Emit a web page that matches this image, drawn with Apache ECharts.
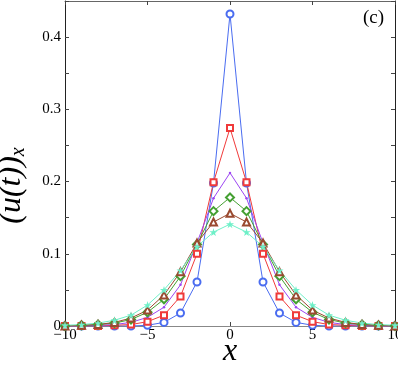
<!DOCTYPE html>
<html>
<head>
<meta charset="utf-8">
<script src="https://cdn.jsdelivr.net/npm/echarts@6/dist/echarts.min.js"></script>
<style>
  html, body { margin: 0; padding: 0; background: #fff; }
  #myChart { width: 398px; height: 366px; }
</style>
</head>
<body>
<div id="myChart"></div>
<script>
// x positions, -10..10
var xs = [-10,-9,-8,-7,-6,-5,-4,-3,-2,-1,0,1,2,3,4,5,6,7,8,9,10];

// half profiles from x=0 outwards (curves are symmetric)
var blueHalf   = [0.432, 0.198, 0.061, 0.018, 0.005, 0.001, 0, 0, 0, 0, 0];
var redHalf    = [0.274, 0.199, 0.100, 0.041, 0.015, 0.006, 0.002, 0.001, 0, 0, 0];
var purpleHalf = [0.212, 0.177, 0.115, 0.057, 0.026, 0.012, 0.005, 0.002, 0.001, 0, 0];
var greenHalf  = [0.178, 0.159, 0.113, 0.069, 0.037, 0.019, 0.009, 0.004, 0.002, 0.001, 0];
var brownHalf  = [0.156, 0.144, 0.115, 0.075, 0.043, 0.022, 0.011, 0.005, 0.002, 0.001, 0];
var cyanHalf   = [0.141, 0.130, 0.110, 0.077, 0.050, 0.029, 0.015, 0.008, 0.004, 0.002, 0.001];

var yLabels = ['0', '0.1', '0.2', '0.3', '0.4'];
var xLabels = {'-10': '\u221210', '-5': '\u22125', '0': '0', '5': '5', '10': '10'};

function full(half){
    var out = [];
    for(var i = 0; i < xs.length; i++){
        out.push([xs[i], half[Math.abs(xs[i])]]);
    }
    return out;
}

var starPath = 'path://M50,0 L61,35 L98,35 L68,57 L79,91 L50,70 L21,91 L32,57 L2,35 L39,35 Z';

function mk(name, half, color, symbol, size){
    return {
        name: name,
        type: 'line',
        data: full(half),
        symbol: symbol,
        symbolSize: size,
        showSymbol: true,
        lineStyle: { color: color, width: 1 },
        itemStyle: { color: color, borderWidth: 0.8 },
        emphasis: { disabled: true },
        z: 3
    };
}

var chart = echarts.init(document.getElementById('myChart'));
var font = 'Liberation Serif';

chart.setOption({
    animation: false,
    grid: { left: 65, right: 3, top: 1, bottom: 40, outerBoundsMode: 'none', containLabel: false },
    xAxis: [{
        type: 'value', min: -10, max: 10, interval: 5,
        name: 'x', nameLocation: 'middle', nameGap: 10, nameMoveOverlap: false,
        nameTextStyle: { fontFamily: font, fontStyle: 'italic', fontSize: 32, color: '#000' },
        axisLine: { show: true, onZero: false, lineStyle: { color: '#888', width: 1 } },
        axisTick: { show: true, inside: true, length: 4, lineStyle: { color: '#444' } },
        axisLabel: { fontFamily: font, fontSize: 15, color: '#000', margin: 2,
            formatter: function(v){ return xLabels[String(v)] || ''; } },
        splitLine: { show: false }
    }, {
        type: 'value', min: -10, max: 10, interval: 5, position: 'top',
        axisLine: { show: true, onZero: false, lineStyle: { color: '#666', width: 1 } },
        axisTick: { show: true, inside: true, length: 4, lineStyle: { color: '#444' } },
        axisLabel: { show: false }, splitLine: { show: false }
    }],
    yAxis: [{
        type: 'value', min: 0, max: 0.45, interval: 0.05,
        name: '{a|(u(t))}{b|x}', nameLocation: 'middle', nameGap: 36, nameRotate: 90,
        nameMoveOverlap: false,
        nameTextStyle: {
            padding: [0, 44, 0, 0],
            rich: {
                a: { fontFamily: font, fontStyle: 'italic', fontSize: 32, color: '#000' },
                b: { fontFamily: font, fontStyle: 'italic', fontSize: 20, color: '#000', padding: [14, 0, 0, 0] }
            }
        },
        axisLine: { show: true, onZero: false, lineStyle: { color: '#222', width: 1 } },
        axisTick: { show: true, inside: true, length: 4, lineStyle: { color: '#444' } },
        axisLabel: { fontFamily: font, fontSize: 15, color: '#000', margin: 4,
            formatter: function(v){
                var k = Math.round(v * 100);
                return k % 10 === 0 ? yLabels[k / 10] : '';
            } },
        splitLine: { show: false }
    }, {
        type: 'value', min: 0, max: 0.45, interval: 0.05, position: 'right',
        axisLine: { show: true, onZero: false, lineStyle: { color: '#222', width: 1 } },
        axisTick: { show: true, inside: true, length: 4, lineStyle: { color: '#444' } },
        axisLabel: { show: false }, splitLine: { show: false }
    }],
    graphic: [{
        type: 'text', right: 14, top: 9,
        style: { text: '(c)', font: '19px "Liberation Serif"', fill: '#000' }
    }],
    series: [
        mk('a', blueHalf, '#4a6cf0', 'emptyCircle', 7),
        mk('b', redHalf, '#f03a3a', 'emptyRect', 6),
        mk('c', purpleHalf, '#9c45f2', 'circle', 2.5),
        mk('d', greenHalf, '#44a032', 'emptyDiamond', 8),
        mk('e', brownHalf, '#9a4a30', 'emptyTriangle', 7),
        mk('f', cyanHalf, '#6ef0c8', starPath, 8)
    ]
});
</script>
</body>
</html>
